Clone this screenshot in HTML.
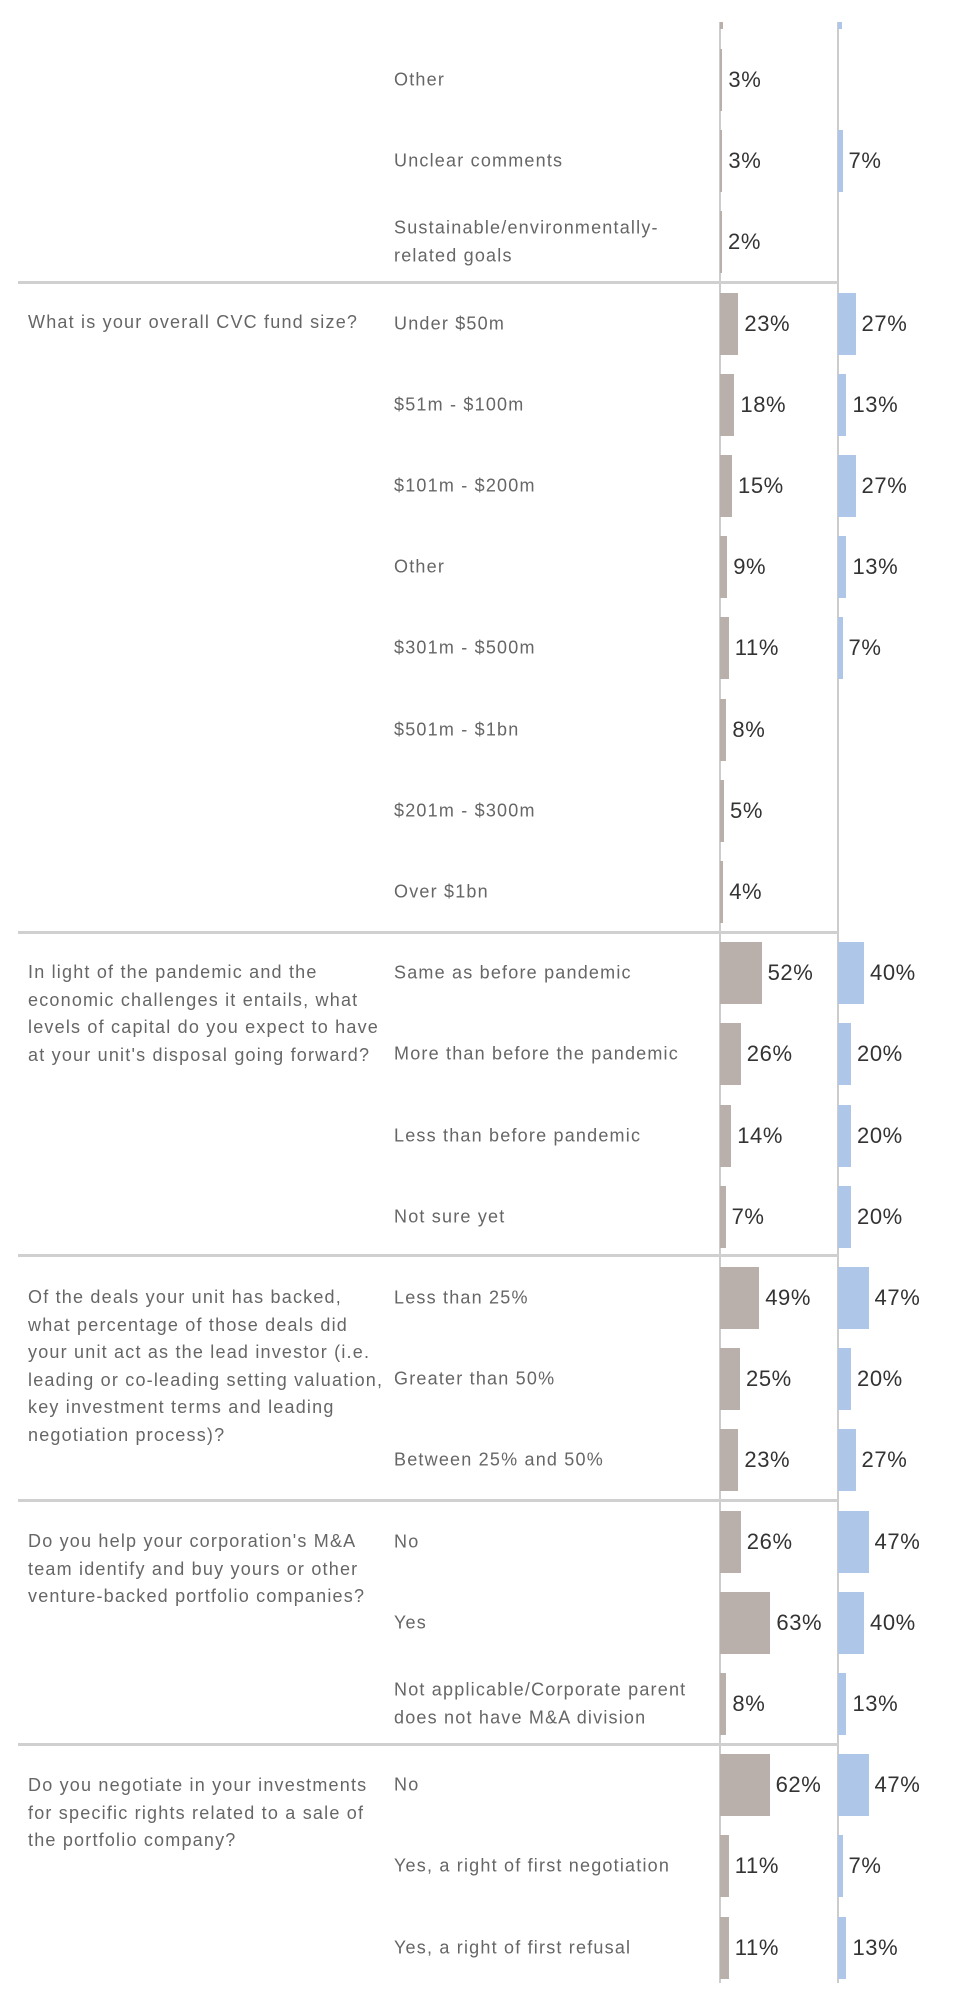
<!DOCTYPE html>
<html><head><meta charset="utf-8"><style>
body{margin:0;width:964px;height:2007px;background:#fff;position:relative;overflow:hidden;font-family:"Liberation Sans",sans-serif}
.ax{position:absolute;width:2px;background:#ccc;top:22px;height:1961px}
.sep{position:absolute;left:18px;width:820px;height:3px;background:#d0d0d0}
.q{position:absolute;left:28px;width:400px;color:#666;font-size:18px;line-height:27.5px;letter-spacing:1.2px;white-space:nowrap}
.a{position:absolute;left:394px;color:#666;font-size:18px;line-height:27.5px;letter-spacing:1.2px;transform:translateY(-50%);white-space:nowrap}
.g{position:absolute;left:720px;height:62px;background:#b9b0ab}
.b{position:absolute;left:838px;height:62px;background:#aec6e8}
.l{position:absolute;color:#333;font-size:22px;letter-spacing:0.6px;transform:translateY(-50%)}
</style></head><body>
<div class="ax" style="left:719px"></div>
<div class="ax" style="left:837px"></div>
<div style="position:absolute;left:720px;top:22px;width:3px;height:7px;background:#b9b0ab"></div>
<div style="position:absolute;left:838px;top:22px;width:4px;height:7px;background:#aec6e8"></div>
<div id="c"></div>
<div class="sep" style="top:281px"></div>
<div class="sep" style="top:931px"></div>
<div class="sep" style="top:1254px"></div>
<div class="sep" style="top:1499px"></div>
<div class="sep" style="top:1743px"></div>
<div class="q" style="top:309px">What is your overall CVC fund size?</div>
<div class="q" style="top:959px">In light of the pandemic and the<br>economic challenges it entails, what<br>levels of capital do you expect to have<br>at your unit's disposal going forward?</div>
<div class="q" style="top:1284px">Of the deals your unit has backed,<br>what percentage of those deals did<br>your unit act as the lead investor (i.e.<br>leading or co-leading setting valuation,<br>key investment terms and leading<br>negotiation process)?</div>
<div class="q" style="top:1528px">Do you help your corporation's M&amp;A<br>team identify and buy yours or other<br>venture-backed portfolio companies?</div>
<div class="q" style="top:1772px">Do you negotiate in your investments<br>for specific rights related to a sale of<br>the portfolio company?</div>
<script>
var rows=[["Other",3,null],["Unclear comments",3,7],["Sustainable/environmentally-<br>related goals",2,null],["Under $50m",23,27],["$51m - $100m",18,13],["$101m - $200m",15,27],["Other",9,13],["$301m - $500m",11,7],["$501m - $1bn",8,null],["$201m - $300m",5,null],["Over $1bn",4,null],["Same as before pandemic",52,40],["More than before the pandemic",26,20],["Less than before pandemic",14,20],["Not sure yet",7,20],["Less than 25%",49,47],["Greater than 50%",25,20],["Between 25% and 50%",23,27],["No",26,47],["Yes",63,40],["Not applicable/Corporate parent<br>does not have M&amp;A division",8,13],["No",62,47],["Yes, a right of first negotiation",11,7],["Yes, a right of first refusal",11,13]];
var h="";
rows.forEach(function(r,i){var c=80+81.2*i;
h+='<div class="a" style="top:'+c+'px">'+r[0]+'</div>';
var gw=Math.max(2,r[1]*0.80);
h+='<div class="g" style="top:'+(c-31)+'px;width:'+gw+'px"></div>';
h+='<div class="l" style="top:'+c+'px;left:'+(720+gw+6)+'px">'+r[1]+'%</div>';
if(r[2]!=null){var bw=Math.max(2,r[2]*0.65);
h+='<div class="b" style="top:'+(c-31)+'px;width:'+bw+'px"></div>';
h+='<div class="l" style="top:'+c+'px;left:'+(838+bw+6)+'px">'+r[2]+'%</div>';}
});
document.getElementById("c").innerHTML=h;
</script>
</body></html>
